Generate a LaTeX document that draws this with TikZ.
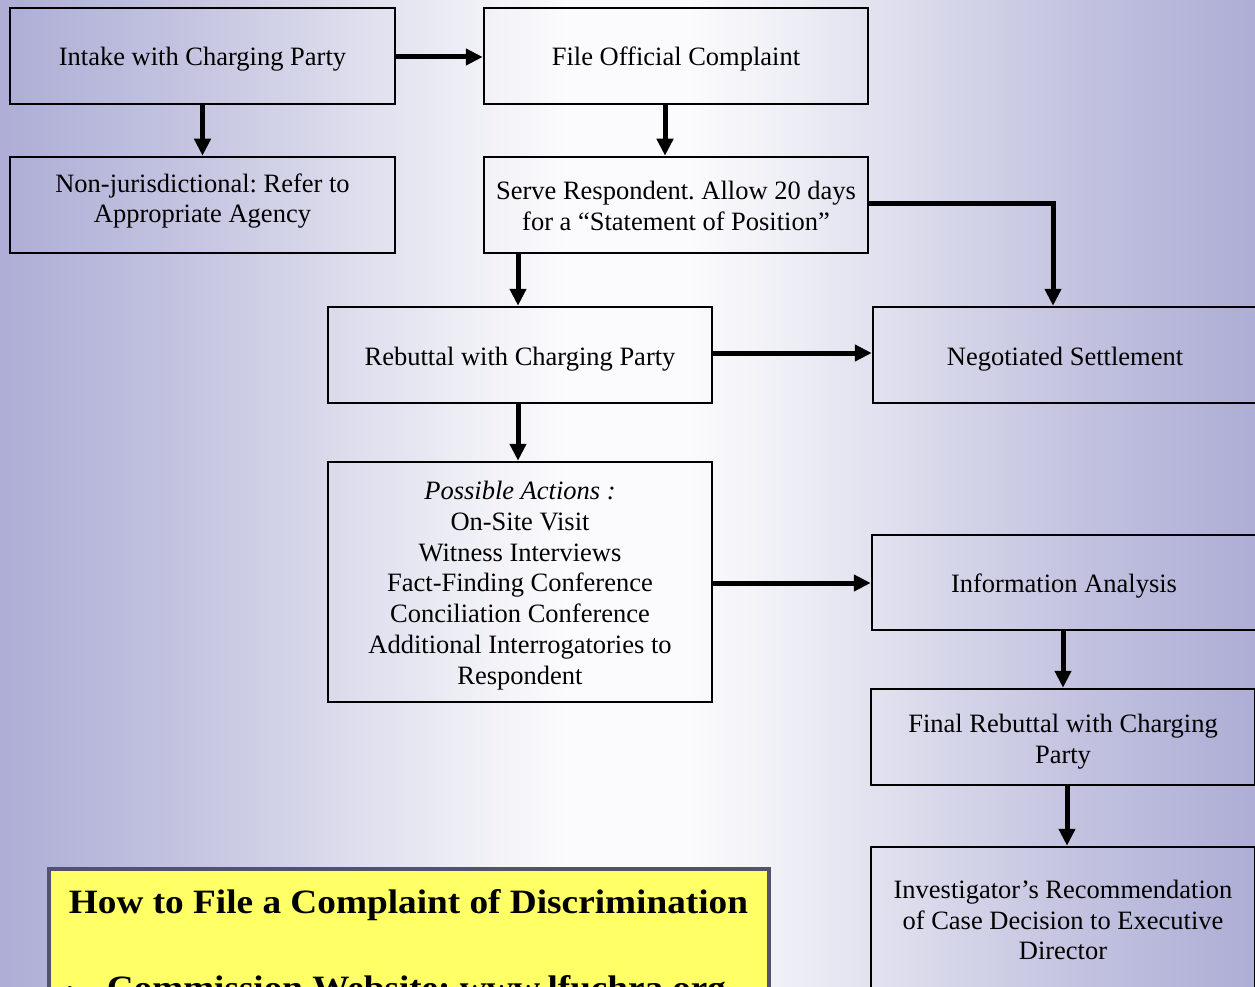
\documentclass[tikz,border=0pt]{standalone}
\usepackage{fontspec}
\setmainfont{Liberation Serif}
\usetikzlibrary{arrows.meta}
\frenchspacing
\definecolor{ybox}{RGB}{255,255,102}
\definecolor{yborder}{RGB}{82,82,110}
\pgfdeclarehorizontalshading{bgshade}{100bp}{%
  rgb(0bp)=(0.682,0.682,0.839);
  rgb(25bp)=(0.682,0.682,0.839);
  rgb(30bp)=(0.737,0.737,0.867);
  rgb(35bp)=(0.804,0.804,0.898);
  rgb(40bp)=(0.882,0.882,0.937);
  rgb(45bp)=(0.953,0.953,0.973);
  rgb(47.5bp)=(0.984,0.984,0.992);
  rgb(52.5bp)=(0.984,0.984,0.992);
  rgb(55bp)=(0.953,0.953,0.973);
  rgb(60bp)=(0.882,0.882,0.937);
  rgb(65bp)=(0.804,0.804,0.898);
  rgb(70bp)=(0.737,0.737,0.867);
  rgb(75bp)=(0.682,0.682,0.839);
  rgb(100bp)=(0.682,0.682,0.839)}
\tikzset{
  box/.style={draw=black, line width=2.5pt, minimum width=384pt, minimum height=96pt,
    inner sep=0pt},
  txt/.style={inner sep=0pt, align=center, font=\fontsize{26.5}{30.8}\selectfont},
  arr/.style={draw=black, line width=5pt, -{Triangle[length=17pt,width=16pt]}},
  seg/.style={draw=black, line width=5pt}
}
\begin{document}
\begin{tikzpicture}[x=1pt,y=-1pt]
\useasboundingbox (0,0) rectangle (1255,987);
\clip (0,0) rectangle (1255,987);
\shade[shading=bgshade] (0,0) rectangle (1255,987);

\node[box, minimum width=385pt] (intake) at (202.5,56) {};
\node[box] (file) at (676,56) {};
\node[box, minimum width=385pt] (nonjur) at (202.5,205) {};
\node[box] (serve) at (676,205) {};
\node[box] (rebut) at (520,355) {};
\node[box] (nego) at (1065,355) {};
\node[box, minimum height=240pt] (poss) at (520,582) {};
\node[box, minimum height=95pt] (info) at (1064,582.5) {};
\node[box] (final) at (1063,737) {};
\node[box, minimum height=146pt] (invest) at (1063,920) {};

\node[txt] (tintake) at (202.5,59) {Intake with Charging Party};
\node[txt] (tfile) at (676,59) {File Official Complaint};
\node[txt] (tnonjur) at (202.5,201) {Non-jurisdictional: Refer to\\Appropriate Agency};
\node[txt] (tserve) at (676,206) {Serve Respondent. Allow 20 days\\for a \textquotedblleft Statement of Position\textquotedblright};
\node[txt] (trebut) at (520,359) {Rebuttal with Charging Party};
\node[txt] (tnego) at (1065,359) {Negotiated Settlement};
\node[txt] (tposs) at (520,585.5) {\textit{Possible Actions :}\\On-Site Visit\\Witness Interviews\\Fact-Finding Conference\\Conciliation Conference\\Additional Interrogatories to\\Respondent};
\node[txt] (tinfo) at (1064,586.5) {Information Analysis};
\node[txt] (tfinal) at (1063,742) {Final Rebuttal with Charging\\Party};
\node[txt] (tinvest) at (1063,920) {Investigator\textquoteright s Recommendation\\of Case Decision to Executive\\Director};

\draw[arr] (intake.east |- 0,57) -- (file.west |- 0,57);
\draw[arr] (intake.south) -- (nonjur.north);
\draw[arr] (file.south -| 665,0) -- (serve.north -| 665,0);
\coordinate (bend) at (1053,204);
\draw[seg] (serve.east |- bend) -- ([xshift=2.5pt]bend);
\draw[arr] ([yshift=-2.5pt]bend) -- (nego.north -| bend);
\draw[arr] (serve.south -| 518,0) -- (rebut.north -| 518,0);
\draw[arr] (rebut.east |- 0,353) -- (nego.west |- 0,353);
\draw[arr] (rebut.south -| 518,0) -- (poss.north -| 518,0);
\draw[arr] (poss.east |- 0,583) -- (info.west |- 0,583);
\draw[arr] (info.south -| 1063,0) -- (final.north -| 1063,0);
\draw[arr] (final.south -| 1067,0) -- (invest.north -| 1067,0);

\draw[draw=yborder, line width=4pt, fill=ybox] (49,869) rectangle (768.5,1020);
\node[anchor=base, inner sep=0pt] (title) at (408.5,913)
  {\resizebox{679pt}{24pt}{\bfseries How to File a Complaint of Discrimination}};
\node[anchor=base, inner sep=0pt] (web) at (416.5,999)
  {\resizebox{619pt}{24pt}{\bfseries Commission Website: www.lfuchra.org}};
\node[inner sep=0pt] (bul) at (70,991) {\fontsize{20}{20}\selectfont\textbullet};
\end{tikzpicture}
\end{document}
